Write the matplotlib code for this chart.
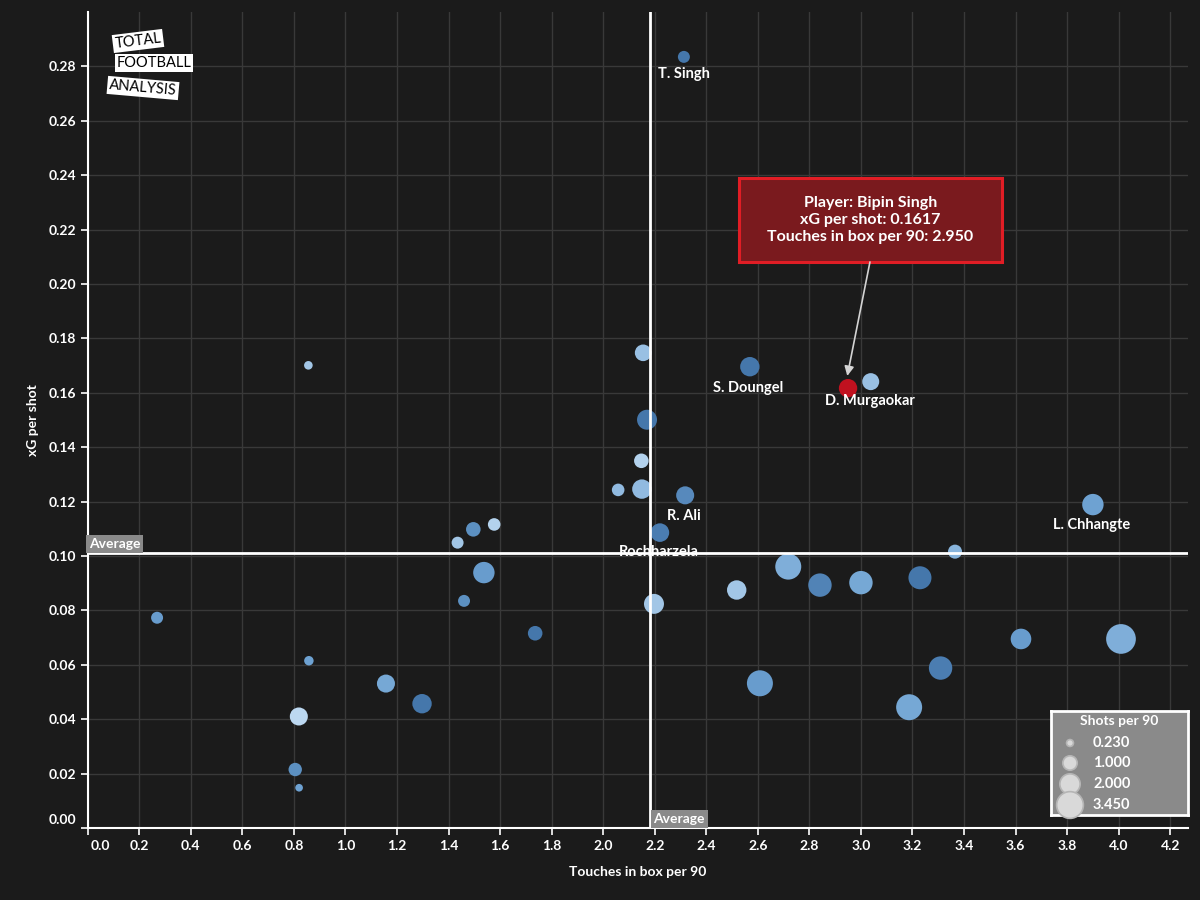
#! /usr/bin/env python3

'''
Touches in box per 90 versus xG per shot, bubble size = shots per 90.
'''

import numpy as np
import matplotlib
matplotlib.use('Agg')
import matplotlib.pyplot as plt
from matplotlib.colors import LinearSegmentedColormap
from matplotlib.patches import Rectangle
from matplotlib.transforms import ScaledTranslation

touches = [2.313, 0.856, 2.155, 2.569, 2.950, 3.038, 2.170, 2.148, 2.058,
           2.150, 2.318, 2.220, 3.900, 3.365, 1.577, 1.496, 1.435, 1.537,
           1.460, 0.269, 1.736, 2.197, 2.518, 2.718, 2.841, 3.000, 3.229,
           3.621, 4.009, 3.309, 2.608, 3.187, 0.858, 1.157, 1.297, 0.819,
           0.805, 0.820]
xg_shot = [0.2835, 0.1701, 0.1747, 0.1696, 0.1617, 0.1641, 0.1501, 0.1350,
           0.1243, 0.1246, 0.1223, 0.1086, 0.1189, 0.1016, 0.1116, 0.1098,
           0.1049, 0.0939, 0.0835, 0.0773, 0.0716, 0.0824, 0.0875, 0.0961,
           0.0893, 0.0902, 0.0920, 0.0695, 0.0695, 0.0588, 0.0532, 0.0444,
           0.0615, 0.0531, 0.0457, 0.0410, 0.0215, 0.0148]
shots = [0.56, 0.29, 1.08, 1.47, 1.32, 1.13, 1.56, 0.83, 0.62, 1.47, 1.27,
         1.35, 1.79, 0.77, 0.62, 0.83, 0.56, 1.79, 0.56, 0.56, 0.83, 1.56,
         1.47, 2.64, 2.14, 2.14, 2.07, 1.66, 3.45, 2.14, 2.64, 2.64, 0.35,
         1.27, 1.47, 1.27, 0.70, 0.23]
shade = [0.85, 0.2, 0.25, 0.85, 0.0, 0.25, 0.85, 0.1, 0.3, 0.3, 0.7, 0.8,
         0.5, 0.35, 0.1, 0.65, 0.2, 0.55, 0.65, 0.55, 0.85, 0.2, 0.2, 0.4,
         0.75, 0.45, 0.85, 0.55, 0.4, 0.8, 0.55, 0.45, 0.5, 0.45, 0.85,
         0.05, 0.65, 0.5]
names = ['T. Singh', '', '', 'S. Doungel', 'D. Murgaokar', '', '', '', '',
         '', 'R. Ali', 'Rochharzela', 'L. Chhangte'] + [''] * 25
label_offset = {'T. Singh': (0, -12), 'S. Doungel': (-1, -15),
                'D. Murgaokar': (16, -9), 'R. Ali': (-1, -15),
                'Rochharzela': (-1, -14), 'L. Chhangte': (-1, -15)}
highlight = 4

avg_touches = 2.18
avg_xg = 0.101

legend_values = [0.23, 1.0, 2.0, 3.45]
legend_labels = ['0.230', '1.000', '2.000', '3.450']

bg = '#1b1b1b'
plt.rcParams['font.family'] = ['Lato', 'DejaVu Sans']
plt.rcParams['text.color'] = 'white'

fig = plt.figure(figsize=(12, 9), dpi=100, facecolor=bg)
ax = fig.add_axes([87.75 / 1200, 72 / 900, (1188 - 87.75) / 1200, 816 / 900])
ax.set_facecolor(bg)

# bubble area proportional to shots per 90 (radius 8 px at 1 shot)
def bubble(v, k=8):
    return (2 * 0.72 * k * np.sqrt(np.asarray(v))) ** 2

cmap = LinearSegmentedColormap.from_list('blues', ['#c4def4', '#6ea2d2', '#34659b'])
colours = [cmap(s) for s in shade]
colours[highlight] = '#c0111f'
ax.scatter(touches, xg_shot, s=bubble(shots), c=colours, linewidths=0,
           zorder=3)

ax.axvline(avg_touches, color='white', lw=2, zorder=4)
ax.axhline(avg_xg, color='white', lw=2, zorder=4)
ax.text(0.004, avg_xg + 0.0012, 'Average', ha='left', va='bottom',
        fontsize=10, fontweight='bold', color='white', zorder=6,
        bbox=dict(facecolor='#8a8a8a', edgecolor='none', pad=2))
ax.text(avg_touches + 0.015, 0.0012, 'Average', ha='left', va='bottom',
        fontsize=10, fontweight='bold', color='white', zorder=6,
        bbox=dict(facecolor='#8a8a8a', edgecolor='none', pad=2))

for x, y, name in zip(touches, xg_shot, names):
    if name:
        ax.annotate(name, (x, y), xytext=label_offset[name],
                    textcoords='offset points', ha='center', va='center',
                    fontsize=10.5, fontweight='bold', color='white', zorder=7)

# tooltip for the highlighted player
ax.add_patch(Rectangle((2.527, 0.2081), 1.02, 0.0309, facecolor='#7a1a1e',
                       edgecolor='#e11d25', lw=2.2, zorder=8))
ax.text(3.037, 0.2236,
        f'Player: Bipin Singh\nxG per shot: {xg_shot[highlight]:.4f}\n'
        f'Touches in box per 90: {touches[highlight]:.3f}',
        ha='center', va='center', fontsize=11.5, fontweight='bold',
        linespacing=1.3, color='white', zorder=9)
ax.annotate('', xy=(touches[highlight] - 0.003, xg_shot[highlight] + 0.0045),
            xytext=(3.035, 0.2081),
            arrowprops=dict(arrowstyle='-|>', color='#d4d4d4', lw=1.2,
                            shrinkA=0, shrinkB=0, mutation_scale=14),
            zorder=8)

ax.set_xlim(0, 4.269)
ax.set_ylim(0, 0.300)
ax.set_xticks(np.arange(0, 4.21, 0.2))
ax.set_yticks(np.arange(0, 0.281, 0.02))
ax.set_xticklabels([f'{t:.1f}' for t in np.arange(0, 4.21, 0.2)])
ax.set_yticklabels([f'{t:.2f}' for t in np.arange(0, 0.281, 0.02)])
ax.grid(True, color='#393939', lw=1, zorder=0)
ax.set_axisbelow(True)
ax.tick_params(colors='white', labelsize=10, length=5, width=1.2)
for lab in ax.get_xticklabels() + ax.get_yticklabels():
    lab.set_fontweight('bold')
ax.get_xticklabels()[0].set_transform(
    ax.get_xticklabels()[0].get_transform()
    + ScaledTranslation(13 / 100, 0, fig.dpi_scale_trans))
ax.get_yticklabels()[0].set_transform(
    ax.get_yticklabels()[0].get_transform()
    + ScaledTranslation(0, 9 / 100, fig.dpi_scale_trans))
for spine in 'right', 'top':
    ax.spines[spine].set_color('none')
for spine in 'left', 'bottom':
    ax.spines[spine].set_color('white')
    ax.spines[spine].set_linewidth(1.5)
ax.set_xlabel('Touches in box per 90', fontsize=10, fontweight='bold',
              color='white', labelpad=10)
ax.set_ylabel('xG per shot', fontsize=10, fontweight='bold', color='white',
              labelpad=7)

# bubble size key
lax = fig.add_axes([1051 / 1200, 85 / 900, 137 / 1200, 104 / 900])
lax.set_facecolor('#8a8a8a')
lax.set_xlim(0, 137)
lax.set_ylim(104, 0)
lax.set_xticks([])
lax.set_yticks([])
for spine in lax.spines.values():
    spine.set_color('white')
    spine.set_linewidth(2)
lax.text(68, 10, 'Shots per 90', ha='center', va='center', fontsize=10,
         fontweight='bold', color='white')
rows = [32, 52, 73, 94]
lax.scatter([19] * 4, rows, s=bubble(legend_values, k=7.2), c='#d9d9d9',
            edgecolors='#b5b5b5', linewidths=1.2, zorder=3, clip_on=False)
for r, lab in zip(rows, legend_labels):
    lax.text(42, r, lab, ha='left', va='center', fontsize=10.5,
             fontweight='bold', color='white')

# logo
for txt, x, y, rot in (('TOTAL', 138, 41, 7), ('FOOTBALL', 154, 63, 0),
                       ('ANALYSIS', 143, 88, -5)):
    fig.text(x / 1200, 1 - y / 900, txt, ha='center', va='center',
             fontsize=10.5, color='black', rotation=rot,
             fontstretch='condensed',
             bbox=dict(facecolor='white', edgecolor='none', pad=1.5))

fig.savefig('out.png', facecolor=bg)
